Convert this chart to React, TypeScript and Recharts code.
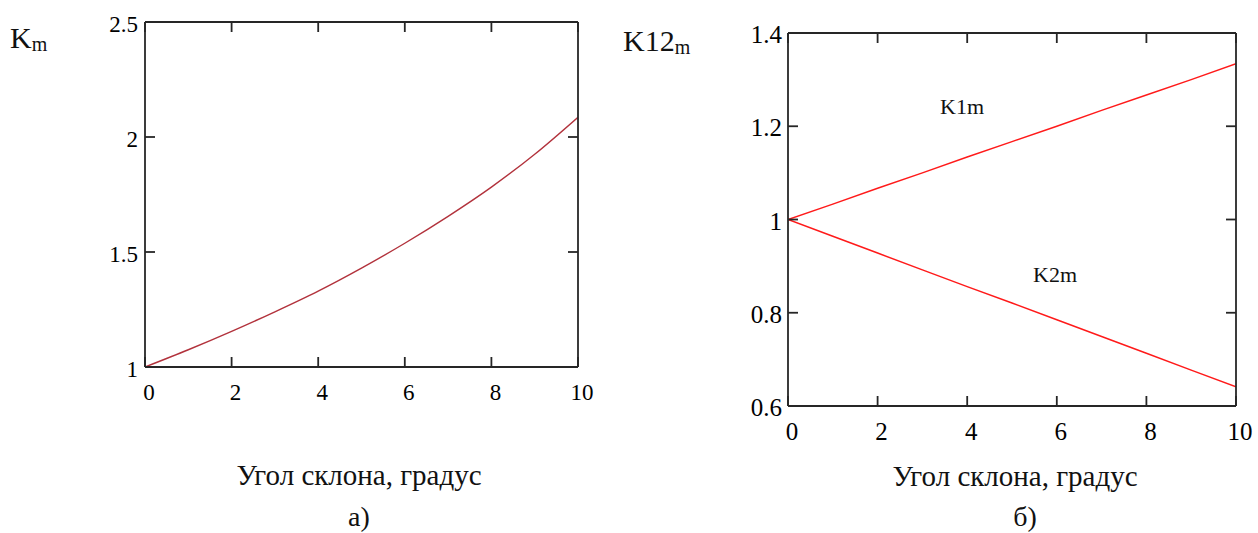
import React from 'react';
import { LineChart, Line, XAxis, YAxis } from 'recharts';

// slope angle, degrees
const degrees = [0, 1, 2, 3, 4, 5, 6, 7, 8, 9, 10];

// chart а) Km
const kmValues = [1, 1.075, 1.155, 1.24, 1.33, 1.43, 1.538, 1.655, 1.782, 1.925, 2.086];

// chart б) K1m / K2m
const k1mValues = [1, 1.033, 1.067, 1.1, 1.134, 1.167, 1.2, 1.234, 1.267, 1.3, 1.334];
const k2mValues = [1, 0.964, 0.928, 0.892, 0.856, 0.821, 0.785, 0.749, 0.713, 0.677, 0.641];

const xTicks = [0, 2, 4, 6, 8, 10];
const kmTicks = [1, 1.5, 2, 2.5];
const k12Ticks = [0.6, 0.8, 1, 1.2, 1.4];

const xTitle = 'Угол склона, градус';

const dataA = degrees.map((deg, i) => ({ deg, km: kmValues[i] }));
const dataB = degrees.map((deg, i) => ({ deg, k1m: k1mValues[i], k2m: k2mValues[i] }));

const FONT = "'Liberation Serif', 'Times New Roman', serif";
const AXIS = '#262626';

// tick labels drawn by hand so the serif font and size stick
const XTick = (props: any) => {
  const { x, y, payload, size = 22, shift = 16 } = props;
  return (
    <text x={x + 4} y={y} dy={shift} textAnchor="middle" style={{ fontFamily: FONT, fontSize: size, fill: '#000' }}>
      {payload.value}
    </text>
  );
};

const YTick = (props: any) => {
  const { x, y, payload, size = 22, shift = 9 } = props;
  return (
    <text x={x} y={y} dy={shift} textAnchor="end" style={{ fontFamily: FONT, fontSize: size, fill: '#000' }}>
      {payload.value}
    </text>
  );
};

const NoTick = () => <g />;

const App: React.FC = () => {
  const axisLine = { stroke: AXIS, strokeWidth: 1.8 };
  const tickLine = { stroke: AXIS, strokeWidth: 1.8 };
  const txt = { fontFamily: FONT, fill: '#111' };

  return (
    <div style={{ position: 'absolute', left: 0, top: 0, width: 1258, height: 533, background: '#fff' }}>
      {/* а) */}
      <div style={{ position: 'absolute', left: 0, top: 0 }}>
        <LineChart width={600} height={420} data={dataA} margin={{ top: 21, right: 21, bottom: 23, left: 105 }}>
          <XAxis
            dataKey="deg" type="number" domain={[0, 10]} ticks={xTicks} allowDataOverflow
            height={30} tickSize={-10} tickMargin={26} axisLine={axisLine} tickLine={tickLine}
            tick={<XTick size={23} shift={17} />} interval={0}
          />
          <XAxis
            xAxisId="top" orientation="top" type="number" domain={[0, 10]} ticks={xTicks} allowDataOverflow
            height={1} tickSize={-10} tick={<NoTick />} axisLine={axisLine} tickLine={tickLine} interval={0}
          />
          <YAxis
            type="number" domain={[1, 2.5]} ticks={kmTicks} allowDataOverflow
            width={40} tickSize={-10} tickMargin={17} axisLine={axisLine} tickLine={tickLine}
            tick={<YTick size={23} shift={10} />} interval={0}
          />
          <YAxis
            yAxisId="right" orientation="right" type="number" domain={[1, 2.5]} ticks={kmTicks} allowDataOverflow
            width={1} tickSize={-10} tick={<NoTick />} axisLine={axisLine} tickLine={tickLine} interval={0}
          />
          <Line dataKey="km" type="monotone" stroke="#b2323c" strokeWidth={1.4} dot={false} isAnimationActive={false} />
        </LineChart>
      </div>

      {/* б) */}
      <div style={{ position: 'absolute', left: 640, top: 0 }}>
        <LineChart width={618} height={460} data={dataB} margin={{ top: 32, right: 21, bottom: 24, left: 98 }}>
          <XAxis
            dataKey="deg" type="number" domain={[0, 10]} ticks={xTicks} allowDataOverflow
            height={30} tickSize={-10} tickMargin={26} axisLine={axisLine} tickLine={tickLine}
            tick={<XTick size={25} shift={18} />} interval={0}
          />
          <XAxis
            xAxisId="top" orientation="top" type="number" domain={[0, 10]} ticks={xTicks} allowDataOverflow
            height={1} tickSize={-10} tick={<NoTick />} axisLine={axisLine} tickLine={tickLine} interval={0}
          />
          <YAxis
            type="number" domain={[0.6, 1.4]} ticks={k12Ticks} allowDataOverflow
            width={50} tickSize={-10} tickMargin={16} axisLine={axisLine} tickLine={tickLine}
            tick={<YTick size={25} shift={10} />} interval={0}
          />
          <YAxis
            yAxisId="right" orientation="right" type="number" domain={[0.6, 1.4]} ticks={k12Ticks} allowDataOverflow
            width={1} tickSize={-10} tick={<NoTick />} axisLine={axisLine} tickLine={tickLine} interval={0}
          />
          <Line dataKey="k1m" type="linear" stroke="#ff1a1a" strokeWidth={1.5} dot={false} isAnimationActive={false} />
          <Line dataKey="k2m" type="linear" stroke="#ff1a1a" strokeWidth={1.5} dot={false} isAnimationActive={false} />
        </LineChart>
      </div>

      {/* captions and axis names */}
      <svg width={1258} height={533} style={{ position: 'absolute', left: 0, top: 0, pointerEvents: 'none' }}>
        <text x={10} y={48} style={{ ...txt, fontSize: 30 }}>
          K<tspan dy={3} style={{ fontSize: 20 }}>m</tspan>
        </text>
        <text x={623} y={51} style={{ ...txt, fontSize: 30 }}>
          K12<tspan dy={3} style={{ fontSize: 20 }}>m</tspan>
        </text>
        <text x={940} y={114} style={{ ...txt, fontSize: 22 }}>K1m</text>
        <text x={1033} y={282} style={{ ...txt, fontSize: 22 }}>K2m</text>
        <text x={359} y={485} textAnchor="middle" style={{ ...txt, fontSize: 29 }}>{xTitle}</text>
        <text x={1015} y={486} textAnchor="middle" style={{ ...txt, fontSize: 29 }}>{xTitle}</text>
        <text x={359} y={526} textAnchor="middle" style={{ ...txt, fontSize: 28 }}>а)</text>
        <text x={1025} y={526} textAnchor="middle" style={{ ...txt, fontSize: 28 }}>б)</text>
      </svg>
    </div>
  );
};

export default App;
